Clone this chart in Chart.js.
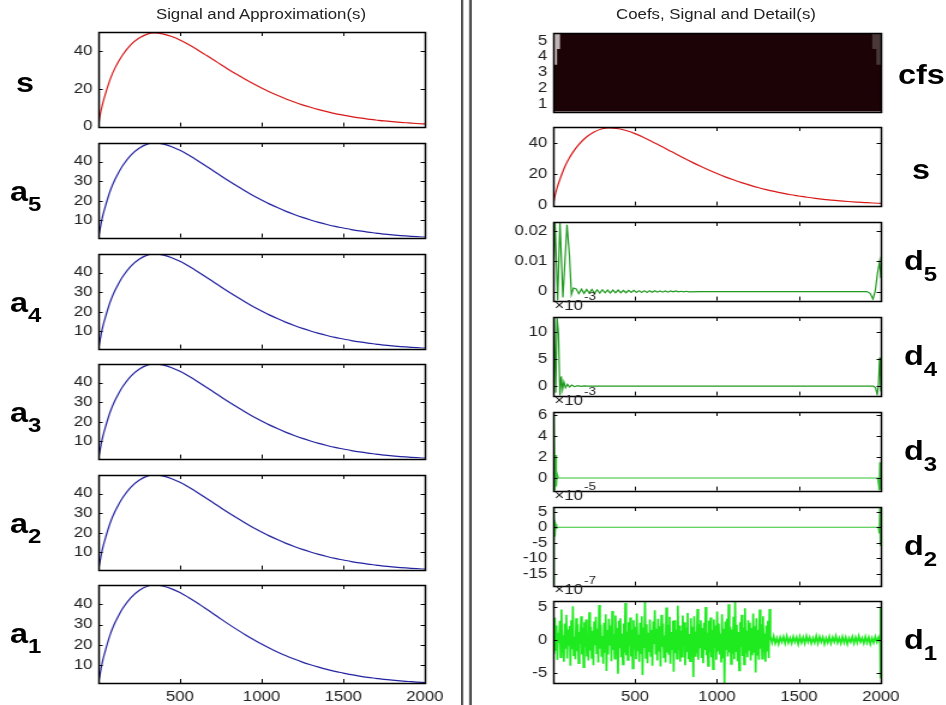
<!DOCTYPE html>
<html>
<head>
<meta charset="utf-8">
<script src="https://cdn.jsdelivr.net/npm/chart.js@4.4.0/dist/chart.umd.min.js"></script>
<style>
  html, body { margin: 0; padding: 0; background: #fff; overflow: hidden; }
  #fig {
    position: absolute; left: 0; top: 0; width: 789px; height: 705px;
    transform: scaleX(1.2); transform-origin: 0 0;
    font-family: "Liberation Sans", Arial, sans-serif; color: #111;
  }
  #fig canvas { position: absolute; }
  .lab { position: absolute; font-weight: bold; font-size: 27px; line-height: 27px; white-space: nowrap; color: #000; }
  .lab sub { font-size: 20px; line-height: 0; }
  .title { position: absolute; font-size: 14px; line-height: 14px; white-space: nowrap; color: #222; transform: translateX(-50%); }
  .sep { position: absolute; top: 0; height: 705px; background: #4a4a4a; }
</style>
</head>
<body>
<div id="fig"></div>
<script>
// Whole figure is laid out in a narrower box and stretched horizontally.
const SX = 1.2;
const fig = document.getElementById('fig');
const ix = v => v / SX;

// ---------- data ----------
const sampleX = [1, 10, 25, 50, 75, 100, 125, 150, 200, 250, 300, 340, 400, 450, 500, 550, 600, 650, 700, 750,
                 800, 850, 900, 950, 1000, 1050, 1100, 1150, 1200, 1250, 1300, 1350, 1400, 1450, 1500, 1550,
                 1600, 1650, 1700, 1750, 1800, 1850, 1900, 1950, 2000];
const signal = [0.5, 5.5, 11.5, 19, 25.5, 30.5, 34.5, 38, 43.3, 46.8, 48.9, 49.5, 48.9, 47.6, 45.8, 43.5, 41, 38.3,
                35.6, 32.8, 30.1, 27.5, 25, 22.6, 20.4, 18.3, 16.4, 14.6, 13, 11.5, 10.2, 9, 7.9, 6.9, 6.1, 5.3,
                4.6, 4, 3.5, 3, 2.6, 2.25, 1.95, 1.65, 1.4];
const approx = [1.2, 5.0, 11.5, 19, 25.5, 30.5, 34.5, 38, 43.3, 46.8, 48.9, 49.5, 48.9, 47.6, 45.8, 43.5, 41, 38.3,
                35.6, 32.8, 30.1, 27.5, 25, 22.6, 20.4, 18.3, 16.4, 14.6, 13, 11.5, 10.2, 9, 7.9, 6.9, 6.1, 5.3,
                4.6, 4, 3.5, 3, 2.6, 2.25, 1.95, 1.65, 1.4];

const xTicks = [500, 1000, 1500, 2000];
const sTicks = [0, 20, 40];
const approxTicks = [10, 20, 30, 40];
const approxNames = ['5', '4', '3', '2', '1'];

const cfsLevels = ['5', '4', '3', '2', '1'];
const cfsBright = [[1, 40], [1, 22], null, null, null];
const cfsDim = [[1950, 2000], [1975, 2000], null, null, null];

const d5Points = [[1, 0.002], [12, 0.0231], [28, -0.003], [42, 0.0231], [60, -0.002], [85, 0.0222], [100, 0.012],
  [112, -0.001], [125, 0.0012], [141, 0.0009], [157, -0.0007], [173, 0.0008], [189, -0.0006], [205, 0.0007],
  [221, -0.0005], [237, 0.0007], [253, -0.0006], [269, 0.0006], [285, -0.0005], [301, 0.0006], [317, -0.0004],
  [333, 0.0005], [349, -0.0005], [365, 0.0005], [381, -0.0004], [397, 0.0005], [413, -0.0004], [429, 0.0004],
  [445, -0.0004], [461, 0.0004], [477, -0.0003], [493, 0.0004], [509, -0.0003], [525, 0.0003], [541, -0.0003],
  [557, 0.0003], [573, -0.0003], [589, 0.0003], [605, -0.0002], [621, 0.0003], [637, -0.0002], [653, 0.0002],
  [669, -0.0002], [685, 0.0002], [701, -0.0002], [717, 0.0002], [733, -0.0001], [749, 0.0002], [765, -0.0001],
  [781, 0.0001], [797, -0.0001], [813, 0.0001], [829, -0.0001], [900, 0], [1915, 0], [1935, -0.0006],
  [1952, -0.0025], [1966, 0.0002], [1980, 0.0062], [1993, 0.0100], [2000, 0.0045]];
const d5Ticks = [0, 0.01, 0.02];

// d4, d3 in units of 1e-3; d2 in 1e-5; d1 in 1e-7
const d4Points = [[1, 4], [7, 12.8], [16, -1.2], [24, 12.8], [33, 9.8], [42, -1.75], [50, 1.8], [58, -0.6],
  [66, 0.8], [76, -0.3], [88, 0.35], [100, -0.15], [115, 0.2], [130, -0.1], [150, 0.1], [170, -0.05], [190, 0.05],
  [210, 0], [1955, 0], [1968, -0.3], [1978, -1.6], [1986, 0.5], [1993, 5.3], [1997, 2.5], [2000, -1.0]];
const d4Ticks = [0, 5, 10];

const d3Points = [[1, 6.3], [4, -1.2], [8, 5.5], [12, -1.2], [16, 2.2], [20, -0.8], [25, 0.4], [32, 0], [1980, 0],
  [1986, -0.6], [1990, -1.2], [1994, 1.5], [1997, -1.1], [2000, 0.8]];
const d3Ticks = [0, 2, 4, 6];

const d2Points = [[1, 6.5], [4, -18.7], [8, 4], [12, -3], [16, 1], [22, -0.3], [30, 0], [1985, 0], [1990, -2],
  [1994, 6.5], [1997, -6], [2000, 2]];
const d2Ticks = [-15, -10, -5, 0, 5];

// d1: every 5th sample up to 1321, every 10th sample afterwards
const d1Loud = [
  0.8, -2.1, 3.4, -1.5, 2.2, -3.0, 1.1, -0.4, 2.9, -2.6, 4.6, -1.9, 0.7, -3.3, 2.5, -1.2, 3.8, -2.8, 1.6, -0.9,
  2.1, -3.9, 3.0, -1.4, 5.1, -2.3, 0.5, -2.9, 3.3, -1.7, 2.4, -3.5, 1.2, -0.6, 3.6, -2.2, 1.9, -4.1, 2.7, -1.0,
  3.1, -2.5, 0.9, -3.1, 4.2, -1.6, 2.0, -2.7, 1.4, -3.8, 2.8, -0.8, 3.5, -2.0, 1.7, -3.4, 5.3, -1.3, 2.3, -2.4,
  0.6, -3.6, 2.6, -1.8, 3.9, -4.7, 1.5, -2.2, 3.2, -0.7, 2.2, -3.2, 4.4, -1.5, 0.9, -2.8, 3.7, -2.1, 1.8, -5.1,
  2.9, -1.1, 3.3, -2.6, 1.0, -3.7, 2.5, -1.9, 5.6, -2.3, 1.3, -3.0, 2.7, -0.9, 3.4, -2.5, 1.6, -4.3, 3.0, -1.4,
  2.0, -2.9, 4.0, -1.7, 0.8, -3.3, 2.6, -2.0, 3.6, -5.3, 1.9, -1.2, 5.9, -2.7, 2.4, -3.5, 1.1, -1.8, 3.1, -2.4,
  1.5, -3.9, 2.8, -0.6, 4.5, -2.2, 1.7, -3.1, 3.2, -1.6, 2.1, -4.0, 3.8, -1.0, 2.5, -2.6, 0.7, -3.4, 4.9, -1.9,
  2.3, -2.1, 3.5, -3.6, 1.2, -1.4, 2.9, -4.8, 3.0, -2.0, 1.6, -2.8, 5.2, -1.5, 2.2, -3.3, 1.4, -2.5, 3.7, -0.8,
  2.7, -3.8, 1.9, -1.7, 4.1, -2.9, 0.9, -3.2, 3.3, -1.3, 2.0, -5.6, 3.6, -2.4, 1.3, -2.0, 4.7, -3.0, 2.4, -1.1,
  3.0, -2.7, 1.8, -3.5, 2.6, -1.5, 5.0, -2.3, 1.1, -3.9, 2.9, -1.8, 3.4, -2.6, 1.5, -4.4, 3.1, -1.2, 2.2, -3.0,
  4.3, -1.6, 2.5, -2.2, 1.0, -3.4, 3.9, -2.8, 1.7, -6.5, 2.8, -1.4, 3.2, -2.5, 5.4, -1.9, 2.0, -3.6, 1.6, -2.1,
  3.5, -2.9, 5.9, -1.7, 2.3, -3.2, 1.2, -4.6, 2.7, -1.0, 3.8, -2.4, 1.9, -3.7, 4.8, -2.0, 1.4, -2.6, 3.0, -1.5,
  2.6, -3.1, 1.8, -2.3, 4.0, -1.8, 2.1, -4.9, 3.3, -2.2, 1.5, -3.0, 4.6, -1.3, 2.4, -2.8, 3.6, -1.9, 1.0, -3.3,
  2.2, -1.6, 2.9, -2.7, 4.7];
const d1Quiet = [
  0.5, -0.4, 0.6, -0.5, 0.3, -0.6, 0.4, -0.3, 0.5, -0.5, 0.6, -0.4, 0.3, -0.5, 0.5, -0.3, 0.4, -0.6, 0.5, -0.4,
  0.4, -0.5, 0.6, -0.3, 0.4, -0.5, 0.3, -0.4, 0.6, -0.5, 0.5, -0.3, 0.4, -0.6, 0.3, -0.4, 0.5, -0.5, 0.4, -0.3,
  0.6, -0.4, 0.3, -0.5, 0.5, -0.4, 0.4, -0.6, 0.3, -0.3, 0.5, -0.5, 0.4, -0.4, 0.6, -0.3, 0.3, -0.5, 0.5, -0.4,
  0.4, -0.6, 0.3, -0.4, 0.5, -0.3, 0.4, -0.5];
const d1Tail = [[1998, 5.0], [1999, -5.8], [2000, 0.2]];
const d1Ticks = [-5, 0, 5];

// ---------- helpers ----------
const FONT = '"Liberation Sans", Arial, sans-serif';
const TICK_FONT = { family: FONT, size: 14 };
const AX_W = 60, PAD_T = 28, PAD_R = 22, PAD_B = 10, XLAB_H = 24;

const pairs = list => list.map(p => ({ x: p[0], y: p[1] }));
const curve = ys => ys.map((y, i) => ({ x: sampleX[i], y }));
const lo = pts => Math.min(...pts.map(p => p.y));
const hi = pts => Math.max(...pts.map(p => p.y));

// box, inward tick marks and the "x10^n" multiplier
const framePlugin = {
  id: 'frame',
  afterDatasetsDraw(chart, args, opts) {
    const { ctx, chartArea: a } = chart;
    const xs = chart.scales.x, ys = chart.scales.y;
    ctx.save();
    ctx.strokeStyle = '#000';
    if (opts.marks) {
      ctx.lineWidth = 1;
      ctx.beginPath();
      xs.ticks.forEach(t => {
        const p = Math.round(xs.getPixelForValue(t.value)) + 0.5;
        ctx.moveTo(p, a.top); ctx.lineTo(p, a.top + 4);
        ctx.moveTo(p, a.bottom); ctx.lineTo(p, a.bottom - 4);
      });
      ys.ticks.forEach(t => {
        const p = Math.round(ys.getPixelForValue(t.value)) + 0.5;
        ctx.moveTo(a.left, p); ctx.lineTo(a.left + 3.5, p);
        ctx.moveTo(a.right, p); ctx.lineTo(a.right - 3.5, p);
      });
      ctx.stroke();
    }
    ctx.lineWidth = 1.5;
    ctx.strokeRect(Math.round(a.left) + 0.5, Math.round(a.top) + 0.5,
                   Math.round(a.right - a.left), Math.round(a.bottom - a.top));
    if (opts.exponent) {
      ctx.fillStyle = '#222';
      ctx.textAlign = 'left';
      ctx.textBaseline = 'middle';
      ctx.font = '14px ' + FONT;
      const base = '\u00d710';
      ctx.fillText(base, a.left + 1, a.top - 11);
      const w = ctx.measureText(base).width;
      ctx.font = '11px ' + FONT;
      ctx.fillText(opts.exponent, a.left + 2 + w, a.top - 20);
    }
    ctx.restore();
  }
};

function linearY(min, max, ticks) {
  return {
    type: 'linear', min, max,
    ticks: { font: TICK_FONT, color: '#222', padding: 5, callback: v => String(v) },
    afterBuildTicks: s => { s.ticks = ticks.map(v => ({ value: v })); }
  };
}

function panel(box, o) {
  const plotW = Math.round(ix(box.w));
  const left = Math.round(ix(box.l)) - AX_W;
  const xH = o.xLabels ? XLAB_H : 0;
  const cw = AX_W + plotW + PAD_R;
  const ch = PAD_T + box.h + PAD_B + xH;
  const cv = document.createElement('canvas');
  cv.width = cw; cv.height = ch;
  cv.style.left = left + 'px';
  cv.style.top = (box.t - PAD_T) + 'px';
  cv.style.width = cw + 'px';
  cv.style.height = ch + 'px';
  fig.appendChild(cv);
  new Chart(cv, {
    type: o.type || 'line',
    data: { labels: o.labels, datasets: o.datasets },
    plugins: [framePlugin],
    options: {
      responsive: false, animation: false, devicePixelRatio: 1, events: [],
      indexAxis: o.indexAxis || 'x',
      layout: { padding: { top: PAD_T, right: PAD_R, bottom: PAD_B, left: 0 } },
      plugins: {
        legend: { display: false }, tooltip: { enabled: false },
        frame: { marks: o.marks !== false, exponent: o.exponent }
      },
      scales: {
        x: {
          type: 'linear', min: 1, max: 2000,
          grid: { display: false, drawTicks: false }, border: { display: false },
          ticks: { display: !!o.xLabels, padding: 6, font: TICK_FONT, color: '#222', maxRotation: 0,
                   callback: v => String(v) },
          afterBuildTicks: s => { s.ticks = xTicks.map(v => ({ value: v })); },
          afterFit: s => { s.height = xH; }
        },
        y: Object.assign({
          grid: { display: false, drawTicks: false }, border: { display: false },
          afterFit: s => { s.width = AX_W; }
        }, o.y)
      }
    }
  });
}

function lineSet(points, color, smooth, width) {
  return {
    data: points, borderColor: color, borderWidth: width || 1.2, pointRadius: 0, fill: false,
    tension: 0, cubicInterpolationMode: smooth ? 'monotone' : 'default'
  };
}

function label(x, baseline, main, sub, drop) {
  const d = document.createElement('div');
  d.className = 'lab';
  d.style.left = ix(x) + 'px';
  d.style.top = (baseline - 21) + 'px';
  d.textContent = main;
  if (sub) {
    const s = document.createElement('sub');
    s.textContent = sub;
    s.style.verticalAlign = (-drop) + 'px';
    d.appendChild(s);
  }
  fig.appendChild(d);
}

function title(cx, top, text) {
  const d = document.createElement('div');
  d.className = 'title';
  d.style.left = ix(cx) + 'px';
  d.style.top = top + 'px';
  d.textContent = text;
  fig.appendChild(d);
}

// ---------- left column: signal and approximations ----------
const LEFT = { l: 98, w: 326, h: 98 };
const leftTops = [32, 143, 254, 364, 475, 585];

const sCurve = curve(signal);
const aCurve = curve(approx);

panel({ ...LEFT, t: leftTops[0] }, {
  datasets: [lineSet(sCurve, '#d81818', true)],
  y: linearY(0, 50, sTicks)
});
label(16, leftTops[0] + LEFT.h / 2 + 10, 's');

approxNames.forEach((n, i) => {
  const t = leftTops[i + 1];
  panel({ ...LEFT, t }, {
    datasets: [lineSet(aCurve, '#2323a0', true)],
    y: linearY(lo(aCurve), hi(aCurve), approxTicks),
    xLabels: i === approxNames.length - 1
  });
  label(10, t + LEFT.h / 2 + 8, 'a', n, 10);
});

// ---------- right column: coefficients, signal and details ----------
const RIGHT = { l: 553, w: 327, h: 82 };
const rightTops = [33, 127, 222, 317, 412, 507, 601];
const mid = i => rightTops[i] + RIGHT.h / 2;

panel({ ...RIGHT, t: rightTops[0] }, {
  type: 'bar', indexAxis: 'y', labels: cfsLevels, marks: false,
  datasets: [
    { data: cfsLevels.map(() => [1, 2000]), backgroundColor: '#1c0306', grouped: false, order: 3,
      barPercentage: 1, categoryPercentage: 1, borderWidth: 0 },
    { data: cfsDim, backgroundColor: '#4a3838', grouped: false, order: 2,
      barPercentage: 1, categoryPercentage: 1, borderWidth: 0 },
    { data: cfsBright, backgroundColor: '#bfb4b4', grouped: false, order: 1,
      barPercentage: 1, categoryPercentage: 1, borderWidth: 0 }
  ],
  y: { type: 'category', ticks: { font: TICK_FONT, color: '#222', padding: 5, autoSkip: false } }
});
label(898, mid(0) + 9, 'cfs');

panel({ ...RIGHT, t: rightTops[1] }, {
  datasets: [lineSet(sCurve, '#d81818', true)],
  y: linearY(0, 50, sTicks)
});
label(912, mid(1) + 10, 's');

const details = [
  { pts: pairs(d5Points), ticks: d5Ticks, color: '#1e9a1e', name: '5' },
  { pts: pairs(d4Points), ticks: d4Ticks, color: '#1e9a1e', name: '4', exp: '-3' },
  { pts: pairs(d3Points), ticks: d3Ticks, color: '#33c433', name: '3', exp: '-3' },
  { pts: pairs(d2Points), ticks: d2Ticks, color: '#33c433', name: '2', exp: '-5' },
  { pts: d1Loud.map((v, i) => ({ x: 1 + 5 * i, y: v }))
           .concat(d1Quiet.map((v, j) => ({ x: 1326 + 10 * j, y: v })))
           .concat(pairs(d1Tail)),
    ticks: d1Ticks, color: '#1fea1f', name: '1', exp: '-7', width: 1.7 }
];

details.forEach((d, i) => {
  const t = rightTops[i + 2];
  panel({ ...RIGHT, t }, {
    datasets: [lineSet(d.pts, d.color, false, d.width)],
    y: linearY(lo(d.pts), hi(d.pts), d.ticks),
    exponent: d.exp,
    xLabels: i === details.length - 1
  });
  label(904, mid(i + 2) + 6, 'd', d.name, 11);
});

// ---------- titles and divider ----------
title(261, 7, 'Signal and Approximation(s)');
title(716, 7, 'Coefs, Signal and Detail(s)');
[461, 469].forEach(x => {
  const s = document.createElement('div');
  s.className = 'sep';
  s.style.left = ix(x) + 'px';
  s.style.width = ix(2.2) + 'px';
  fig.appendChild(s);
});
</script>
</body>
</html>
